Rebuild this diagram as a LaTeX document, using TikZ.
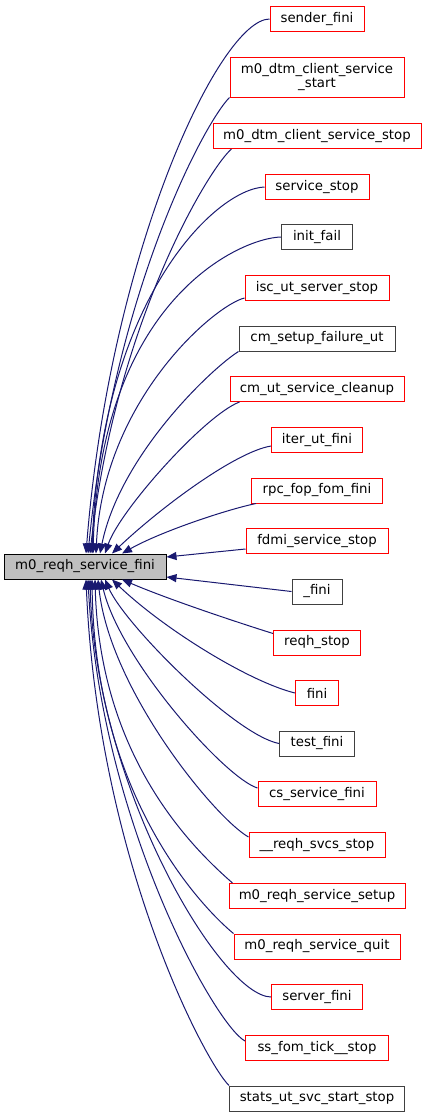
\documentclass[tikz,border=0pt]{standalone}
\usepackage{fontspec}
\setmainfont{DejaVu Sans}
\usetikzlibrary{arrows.meta}
\definecolor{edgecol}{HTML}{191970}
\definecolor{redb}{HTML}{FF0000}
\definecolor{darkb}{HTML}{404040}
\definecolor{mainfill}{HTML}{BFBFBF}
\begin{document}
\begin{tikzpicture}[x=1pt,y=-1pt,
  font=\fontsize{13.3}{14.5}\selectfont,
  box/.style={draw, line width=1pt, inner sep=0pt, minimum height=25pt, text=black},
  redbox/.style={box, draw=redb},
  blackbox/.style={box, draw=darkb},
  mainbox/.style={box, draw=black, fill=mainfill},
  edge/.style={draw=edgecol, line width=1pt, -{Triangle[length=10pt,width=8pt,fill=edgecol]}}]
\useasboundingbox (0,0) rectangle (427,1117);

\node[mainbox, minimum width=162pt] (main) at (85,566.5) {m0\_reqh\_service\_fini};

\node[redbox, minimum width=94pt] (n1) at (317,19) {sender\_fini};
\node[redbox, minimum width=174pt, minimum height=40pt, align=center] (n2) at (317,77) {m0\_dtm\_client\_service\\\_start};
\node[redbox, minimum width=208pt] (n3) at (317,136) {m0\_dtm\_client\_service\_stop};
\node[redbox, minimum width=104pt] (n4) at (317,187) {service\_stop};
\node[blackbox, minimum width=71pt] (n5) at (317,237) {init\_fail};
\node[redbox, minimum width=144pt] (n6) at (317,288) {isc\_ut\_server\_stop};
\node[blackbox, minimum width=156pt] (n7) at (317,338.5) {cm\_setup\_failure\_ut};
\node[redbox, minimum width=174pt] (n8) at (317,389) {cm\_ut\_service\_cleanup};
\node[redbox, minimum width=91pt] (n9) at (317,440) {iter\_ut\_fini};
\node[redbox, minimum width=131pt] (n10) at (317,490.5) {rpc\_fop\_fom\_fini};
\node[redbox, minimum width=142pt] (n11) at (317,541) {fdmi\_service\_stop};
\node[blackbox, minimum width=50pt] (n12) at (317,591.5) {\_fini};
\node[redbox, minimum width=87pt] (n13) at (317,642.5) {reqh\_stop};
\node[redbox, minimum width=43pt] (n14) at (317,693) {fini};
\node[blackbox, minimum width=75pt] (n15) at (317,743.5) {test\_fini};
\node[redbox, minimum width=118pt] (n16) at (317,794) {cs\_service\_fini};
\node[redbox, minimum width=136pt] (n17) at (317,845) {\_\_reqh\_svcs\_stop};
\node[redbox, minimum width=176pt] (n18) at (317,896) {m0\_reqh\_service\_setup};
\node[redbox, minimum width=166pt] (n19) at (317,946.5) {m0\_reqh\_service\_quit};
\node[redbox, minimum width=91pt] (n20) at (317,997) {server\_fini};
\node[redbox, minimum width=143pt] (n21) at (317,1048) {ss\_fom\_tick\_\_stop};
\node[blackbox, minimum width=175pt] (n22) at (317,1098.5) {stats\_ut\_svc\_start\_stop};

% edges entering the top of the main node
\draw[edge] (n1.west) .. controls (220,19.5) and (110,250) .. ([xshift=1pt]main.north);
\draw[edge] (n2.south west) .. controls (205,122) and (114,290) .. ([xshift=3pt]main.north);
\draw[edge] ([xshift=19pt]n3.south west) .. controls (210,167) and (116,320) .. ([xshift=5pt]main.north);
\draw[edge] (n4.west) .. controls (215,189) and (100,300) .. ([xshift=7pt]main.north);
\draw[edge] (n5.west) .. controls (240,238) and (100,300) .. ([xshift=8pt]main.north);
\draw[edge] ([yshift=3pt]n6.south west) .. controls (215,305) and (103,400) .. ([xshift=11pt]main.north);
\draw[edge] (n7.south west) .. controls (212,368) and (120,455) .. ([xshift=15pt]main.north);
\draw[edge] ([xshift=10pt]n8.south west) .. controls (205,415) and (120,510) .. ([xshift=20pt]main.north);
\draw[edge] ([yshift=-6pt]n9.west) .. controls (235,452) and (160,508) .. ([xshift=27pt]main.north);
\draw[edge] ([xshift=5pt]n10.south west) .. controls (225,510) and (160,532) .. ([xshift=37pt]main.north);
% edges entering the right side
\draw[edge] ([yshift=-8pt]n11.west) -- ([yshift=9.5pt]main.east);
\draw[edge] (n12.west) -- ([yshift=-10.5pt]main.east);
% edges entering the bottom
\draw[edge] ([yshift=9pt]n13.west) .. controls (230,620) and (165,598) .. ([xshift=37pt]main.south);
\draw[edge] (n14.west) .. controls (250,682) and (165,630) .. ([xshift=27pt]main.south);
\draw[edge] (n15.west) .. controls (235,735) and (125,625) .. ([xshift=20pt]main.south);
\draw[edge] ([yshift=6pt]n16.west) .. controls (225,778) and (120,660) .. ([xshift=16pt]main.south);
\draw[edge] ([yshift=8pt]n17.west) .. controls (215,818) and (110,690) .. ([xshift=13pt]main.south);
\draw[edge] ([xshift=4pt]n18.north west) .. controls (195,850) and (100,760) .. ([xshift=10pt]main.south);
\draw[edge] (n19.north west) .. controls (205,910) and (95,800) .. ([xshift=7pt]main.south);
\draw[edge] (n20.west) .. controls (220,996) and (95,785) .. ([xshift=5pt]main.south);
\draw[edge] ([yshift=7pt]n21.west) .. controls (215,1025) and (100,820) .. ([xshift=3pt]main.south);
\draw[edge] (n22.north west) .. controls (205,1062) and (98,860) .. ([xshift=1pt]main.south);
\end{tikzpicture}
\end{document}
